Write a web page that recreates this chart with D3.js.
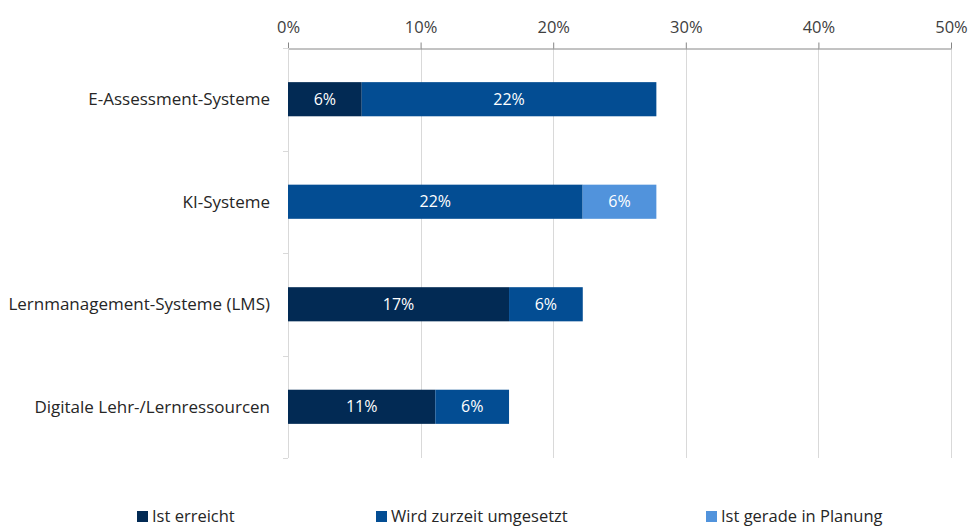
<!DOCTYPE html>
<html><head><meta charset="utf-8">
<script src="https://cdn.jsdelivr.net/npm/d3@7"></script>
<style>body{margin:0;background:#fff;} svg{display:block;} text{font-family:"Open Sans",Lato,sans-serif;}</style>
</head><body>
<svg id="c" width="968" height="528"></svg>
<script>
const categories = ["E-Assessment-Systeme","KI-Systeme","Lernmanagement-Systeme (LMS)","Digitale Lehr-/Lernressourcen"];
const seriesNames = ["Ist erreicht","Wird zurzeit umgesetzt","Ist gerade in Planung"];
const istErreicht = [5.56, 0, 16.67, 11.11];
const wirdUmgesetzt = [22.22, 22.22, 5.56, 5.56];
const inPlanung = [0, 5.56, 0, 0];
const tickValues = [0,10,20,30,40,50];
const colors = ["#022a54","#034d93","#5193dc"];

(function(){
const svg = d3.select("#c");
const pL = 288, pR = 951, pT = 48, pB = 458;
const x = d3.scaleLinear().domain([0,50]).range([pL,pR]);
const y = d3.scaleBand().domain(categories).range([pT,pB]).paddingInner(0.667).paddingOuter(0.333);

svg.append("g").selectAll("line").data(tickValues.slice(1)).join("line")
  .attr("x1",d=>Math.round(x(d))+0.5).attr("x2",d=>Math.round(x(d))+0.5).attr("y1",pT).attr("y2",pB)
  .attr("stroke","#d9d9d9").attr("stroke-width",1);

const xAxis = d3.axisTop(x).tickValues(tickValues).tickFormat(d=>d+"%").tickSize(6).tickSizeOuter(0).tickPadding(10);
const gx = svg.append("g").attr("transform",`translate(0,${pT+0.5})`).call(xAxis);
gx.select(".domain").attr("stroke","#868686");
gx.selectAll(".tick line").attr("stroke","#868686");
gx.selectAll(".tick text").attr("fill","#404040").style("font-size","16.5px").style("font-family","'Open Sans',Lato,sans-serif");

svg.append("line").attr("x1",pL+0.5).attr("x2",pL+0.5).attr("y1",pT).attr("y2",pB).attr("stroke","#d9d9d9");
const bounds = d3.range(categories.length+1).map(i=>pT + i*(pB-pT)/categories.length);
svg.append("g").selectAll("line").data(bounds).join("line")
  .attr("x1",pL-5).attr("x2",pL).attr("y1",d=>Math.round(d)+0.5).attr("y2",d=>Math.round(d)+0.5)
  .attr("stroke","#d9d9d9");

svg.append("g").selectAll("text").data(categories).join("text")
  .attr("x",pL-18).attr("y",d=>y(d)+y.bandwidth()/2).attr("dy","0.35em")
  .attr("text-anchor","end").attr("fill","#262626").style("font-size","17px").text(d=>d);

const rows = categories.map((c,i)=>({cat:c, "Ist erreicht":istErreicht[i], "Wird zurzeit umgesetzt":wirdUmgesetzt[i], "Ist gerade in Planung":inPlanung[i]}));
const stack = d3.stack().keys(seriesNames)(rows);
stack.forEach((s,si)=>{
  const g = svg.append("g");
  const dat = s.filter(d=>d[1]-d[0]>0);
  g.selectAll("rect").data(dat).join("rect")
    .attr("x",d=>x(d[0])).attr("width",d=>x(d[1])-x(d[0]))
    .attr("y",d=>y(d.data.cat)).attr("height",y.bandwidth())
    .attr("fill",colors[si]);
  g.selectAll("text").data(dat).join("text")
    .attr("x",d=>(x(d[0])+x(d[1]))/2).attr("y",d=>y(d.data.cat)+y.bandwidth()/2).attr("dy","0.35em")
    .attr("text-anchor","middle").attr("fill","#ffffff").style("font-size","16px")
    .text(d=>Math.round(d[1]-d[0])+"%");
});

const legendX = [137,376,706];
const lg = svg.append("g");
seriesNames.forEach((n,i)=>{
  lg.append("rect").attr("x",legendX[i]).attr("y",511).attr("width",11).attr("height",11).attr("fill",colors[i]);
  lg.append("text").attr("x",legendX[i]+15).attr("y",522).attr("fill","#262626").style("font-size","16.5px").text(n);
});
})();
</script>
</body></html>
